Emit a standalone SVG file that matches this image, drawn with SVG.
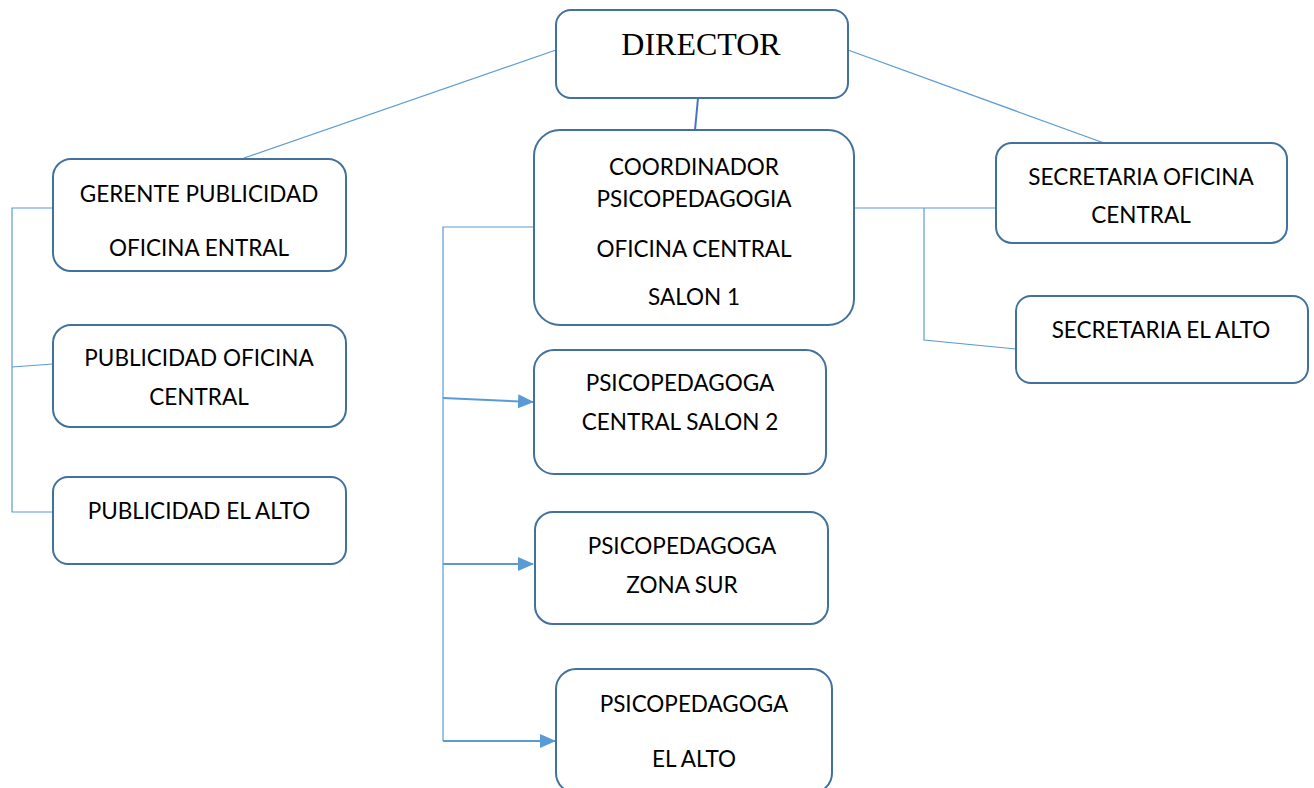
<svg xmlns="http://www.w3.org/2000/svg" width="1314" height="788" viewBox="0 0 1314 788">
<style>
.box{fill:#fff;stroke:#41719C;stroke-width:2}
.t{font-family:Lato,"Liberation Sans",sans-serif;font-size:22.5px;fill:#000;text-anchor:middle}
.c{fill:none;stroke:#5B9BD5;stroke-width:1.2}
.a{fill:none;stroke:#5B9BD5;stroke-width:2}
</style>
<defs>
<marker id="arr" markerWidth="16" markerHeight="14" refX="15" refY="7" orient="auto" markerUnits="userSpaceOnUse" viewBox="0 0 16 14">
<path d="M0,0 L16,7 L0,14 Z" fill="#5B9BD5"/>
</marker>
</defs>
<rect width="1314" height="788" fill="#fff"/>
<g id="connectors">
<line class="c" x1="556" y1="50" x2="244" y2="158"/>
<line class="c" x1="848" y1="50" x2="1104" y2="143"/>
<line x1="698" y1="98" x2="695" y2="130" stroke="#4472C4" stroke-width="2"/>
<polyline class="c" points="53,208 12,208 12,512 53,512"/>
<line class="c" x1="12" y1="367" x2="53" y2="364"/>
<polyline class="c" points="534,227 443,227 443,741"/>
<line class="a" x1="443" y1="398" x2="533" y2="402" marker-end="url(#arr)"/>
<line class="a" x1="443" y1="564" x2="533" y2="564" marker-end="url(#arr)"/>
<line class="a" x1="443" y1="741" x2="555" y2="741" marker-end="url(#arr)"/>
<line class="c" x1="854" y1="208" x2="996" y2="208"/>
<polyline class="c" points="924,208 924,340 1016,349"/>
</g>
<g id="director">
<rect class="box" x="556" y="10" width="292" height="88" rx="15"/>
<text x="701" y="55" font-family="Liberation Serif,serif" font-size="32" text-anchor="middle">DIRECTOR</text>
</g>
<g id="coordinador">
<rect class="box" x="534" y="130" width="320" height="195" rx="26"/>
<text class="t" x="694" y="175">COORDINADOR</text>
<text class="t" x="694" y="207">PSICOPEDAGOGIA</text>
<text class="t" x="694" y="257">OFICINA CENTRAL</text>
<text class="t" x="694" y="305">SALON 1</text>
</g>
<g id="gerente">
<rect class="box" x="53" y="159" width="293" height="112" rx="18"/>
<text class="t" x="199" y="202">GERENTE PUBLICIDAD</text>
<text class="t" x="199" y="256">OFICINA ENTRAL</text>
</g>
<g id="publicidad-central">
<rect class="box" x="53" y="325" width="293" height="102" rx="18"/>
<text class="t" x="199" y="366">PUBLICIDAD OFICINA</text>
<text class="t" x="199" y="405">CENTRAL</text>
</g>
<g id="publicidad-alto">
<rect class="box" x="53" y="477" width="293" height="87" rx="15"/>
<text class="t" x="199" y="519">PUBLICIDAD EL ALTO</text>
</g>
<g id="psico-salon2">
<rect class="box" x="534" y="350" width="292" height="124" rx="20"/>
<text class="t" x="680" y="391">PSICOPEDAGOGA</text>
<text class="t" x="680" y="430">CENTRAL SALON 2</text>
</g>
<g id="psico-zonasur">
<rect class="box" x="535" y="512" width="293" height="112" rx="18"/>
<text class="t" x="682" y="554">PSICOPEDAGOGA</text>
<text class="t" x="682" y="593">ZONA SUR</text>
</g>
<g id="psico-alto">
<rect class="box" x="556" y="669" width="276" height="124" rx="20"/>
<text class="t" x="694" y="712">PSICOPEDAGOGA</text>
<text class="t" x="694" y="767">EL ALTO</text>
</g>
<g id="secretaria-central">
<rect class="box" x="996" y="143" width="291" height="100" rx="16"/>
<text class="t" x="1141" y="185">SECRETARIA OFICINA</text>
<text class="t" x="1141" y="223">CENTRAL</text>
</g>
<g id="secretaria-alto">
<rect class="box" x="1016" y="296" width="292" height="87" rx="15"/>
<text class="t" x="1161" y="338">SECRETARIA EL ALTO</text>
</g>
</svg>
